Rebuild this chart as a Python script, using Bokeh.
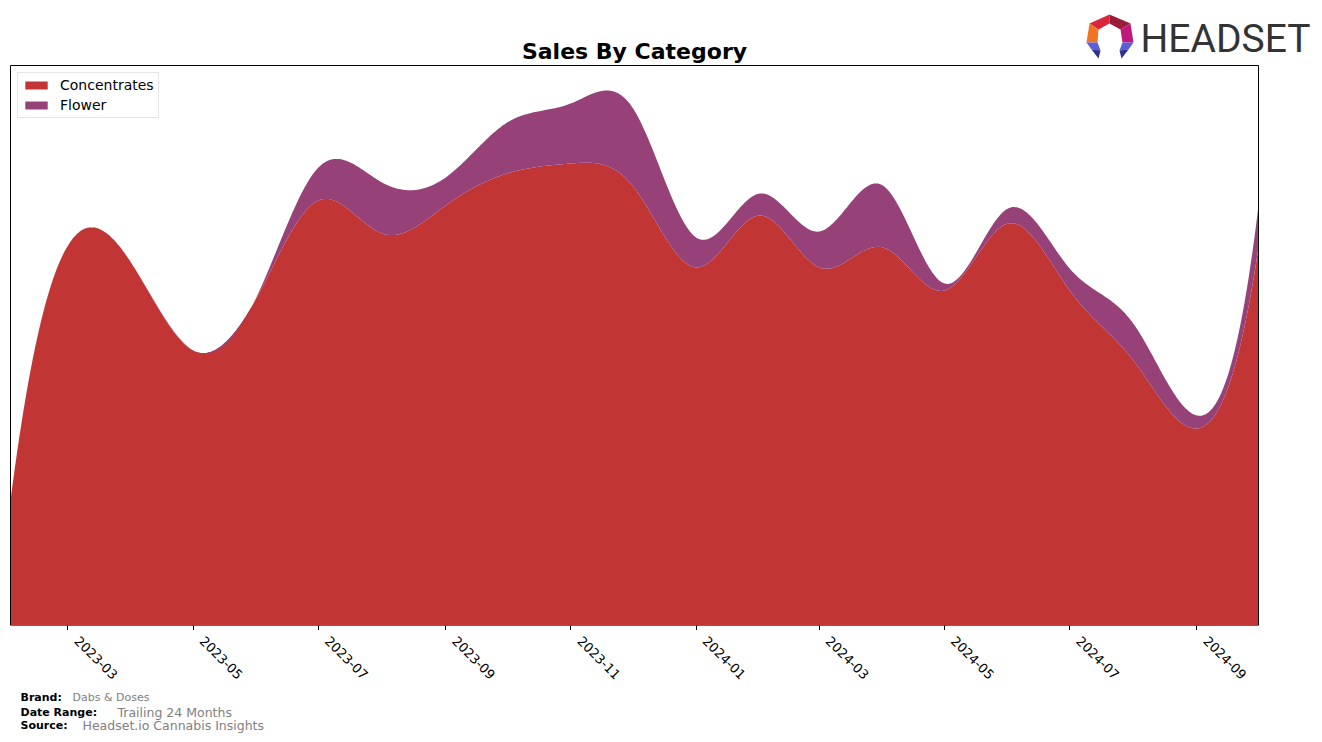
import numpy as np
from bokeh.plotting import figure
from bokeh.layouts import column
from bokeh.models import (Range1d, FixedTicker, CustomJSTickFormatter, Legend,
                          LegendItem, Label, ColumnDataSource, BoxAnnotation)
from bokeh.core.properties import value
from bokeh.embed import file_html
from bokeh.resources import INLINE

# ---------------- data ----------------
dates = ["2023-02-01", "2023-03-01", "2023-04-01", "2023-05-01", "2023-06-01",
         "2023-07-01", "2023-08-01", "2023-09-01", "2023-10-01", "2023-11-01",
         "2023-12-01", "2024-01-01", "2024-02-01", "2024-03-01", "2024-04-01",
         "2024-05-01", "2024-06-01", "2024-07-01", "2024-08-01", "2024-09-01",
         "2024-10-01"]
concentrates = [125, 380, 362, 275, 328, 425, 392, 420, 452, 462, 440, 358,
                410, 358, 378, 335, 402, 335, 265, 197, 378]
flower = [0, 0, 0, 0, 1, 33, 51, 28, 51, 60, 78, 30, 22, 36, 62, 7, 15, 22,
          37, 13, 42]
tick_dates = ["2023-03-01", "2023-05-01", "2023-07-01", "2023-09-01",
              "2023-11-01", "2024-01-01", "2024-03-01", "2024-05-01",
              "2024-07-01", "2024-09-01"]
tick_labels = ["2023-03", "2023-05", "2023-07", "2023-09", "2023-11",
               "2024-01", "2024-03", "2024-05", "2024-07", "2024-09"]
categories = ["Concentrates", "Flower"]
colors = ["#c13534", "#964279"]

# ---------------- canvas geometry (px) ----------------
W, H = 1322, 742
FL, FR = 10, 1258          # chart box left / right
BOX_TOP, BOX_BOT = 65, 625  # chart box top / bottom
HEAD_H = 64                 # header strip
MAIN_TOP = HEAD_H
FRAME_H = BOX_BOT - MAIN_TOP   # main frame: 64 .. 625
MAIN_BOTTOM = 5             # tick marks
FOOT_TOP = BOX_BOT + MAIN_BOTTOM
FOOT_H = H - FOOT_TOP
YMAX = BOX_BOT - BOX_TOP    # value scale: 1 unit per px inside the box


def spline(x, y, xs):
    """not-a-knot cubic spline through the monthly points (for smooth drawing)"""
    x = np.asarray(x, float)
    y = np.asarray(y, float)
    n = len(x)
    h = np.diff(x)
    A = np.zeros((n, n))
    b = np.zeros(n)
    A[0, 0], A[0, 1], A[0, 2] = h[1], -(h[0] + h[1]), h[0]
    for i in range(1, n - 1):
        A[i, i - 1] = h[i - 1]
        A[i, i] = 2 * (h[i - 1] + h[i])
        A[i, i + 1] = h[i]
        b[i] = 6 * ((y[i + 1] - y[i]) / h[i] - (y[i] - y[i - 1]) / h[i - 1])
    A[n - 1, n - 3], A[n - 1, n - 2], A[n - 1, n - 1] = h[n - 2], -(h[n - 3] + h[n - 2]), h[n - 3]
    M = np.linalg.solve(A, b)
    idx = np.clip(np.searchsorted(x, xs, side="right") - 1, 0, n - 2)
    x0, x1 = x[idx], x[idx + 1]
    hh = x1 - x0
    return (M[idx] * (x1 - xs) ** 3 / (6 * hh) + M[idx + 1] * (xs - x0) ** 3 / (6 * hh)
            + (y[idx] / hh - M[idx] * hh / 6) * (x1 - xs)
            + (y[idx + 1] / hh - M[idx + 1] * hh / 6) * (xs - x0))


d = np.array(dates, dtype="datetime64[D]")
days = (d - d[0]).astype(float)
xs = np.linspace(days[0], days[-1], 900)
c_s = spline(days, concentrates, xs)
f_s = spline(days, flower, xs)
x_dt = d[0] + (xs * 86400000).astype("timedelta64[ms]")
src = ColumnDataSource(dict(x=x_dt, zero=np.zeros_like(xs), c=c_s, t=c_s + f_s))

t0 = d[0].astype("datetime64[ms]").astype(float)
t1 = d[-1].astype("datetime64[ms]").astype(float)
scale = (FR - FL) / (t1 - t0)          # px per ms
xr = Range1d(t0 - FL / scale, t1 + (W - FR) / scale)
tick_ms = [np.datetime64(t, "ms").astype(float) for t in tick_dates]


def strip(height, x_range):
    f = figure(width=W, height=height, x_range=x_range, y_range=Range1d(0, height),
               x_axis_type=None, y_axis_type=None, output_backend="svg",
               toolbar_location=None, min_border=0)
    f.outline_line_color = None
    f.grid.visible = False
    f.background_fill_color = "white"
    f.border_fill_color = "white"
    return f


def label(fig, fh, ftop, X, Y, text, size, bold=False, color="black", align="left",
          font="DejaVu Sans"):
    fig.add_layout(Label(x=X, y=fh - (Y - ftop), x_units="screen", y_units="data",
                         text=text, text_font=font, text_font_size=size,
                         text_font_style="bold" if bold else "normal",
                         text_color=color, text_align=align, text_baseline="middle"))


# ---------------- header ----------------
head = strip(HEAD_H, Range1d(0, W))
label(head, HEAD_H, 0, 634, 51, "Sales By Category", "22px", bold=True, align="center")
label(head, HEAD_H, 0, 1140, 38, "HEADSET", "39px", color="#333333", font="Roboto")
logo = [
    ([(1109, 14), (1089, 23), (1098, 29), (1109, 23)], "#d8263a"),
    ([(1109, 14), (1130, 23), (1120, 29), (1109, 23)], "#9a1b3a"),
    ([(1089, 23), (1086, 42), (1097, 42), (1098, 29)], "#f27321"),
    ([(1130, 23), (1133, 42), (1122, 42), (1120, 29)], "#c0187c"),
    ([(1086, 42), (1097, 42), (1100, 50), (1091, 49)], "#5a5ed8"),
    ([(1091, 49), (1100, 50), (1098, 58)], "#2e2f8e"),
    ([(1133, 42), (1122, 42), (1119, 50), (1128, 49)], "#5a5ed8"),
    ([(1128, 49), (1119, 50), (1121, 58)], "#2e2f8e"),
]
head.patches(xs=[[a for a, _ in pts] for pts, _ in logo],
             ys=[[HEAD_H - b for _, b in pts] for pts, _ in logo],
             fill_color=[c for _, c in logo], line_color=None)

# ---------------- main chart ----------------
p = figure(width=W, height=FRAME_H + MAIN_BOTTOM, x_axis_type="datetime",
           y_axis_type=None, output_backend="svg", toolbar_location=None,
           x_range=xr, y_range=Range1d(-0.0, FRAME_H),
           min_border_left=0, min_border_right=0,
           min_border_top=0, min_border_bottom=MAIN_BOTTOM)
p.background_fill_color = "white"
p.border_fill_color = "white"
p.outline_line_color = None
p.grid.visible = False

r1 = p.varea(x="x", y1="zero", y2="c", source=src, fill_color=colors[0])
r2 = p.varea(x="x", y1="c", y2="t", source=src, fill_color=colors[1])

# chart box (matplotlib-style spines)
p.add_layout(BoxAnnotation(left=t0, right=t1, bottom=0, top=YMAX,
                           fill_alpha=0, line_color="black", line_width=1,
                           line_alpha=1))

ax = p.xaxis[0]
ax.ticker = FixedTicker(ticks=tick_ms)
ax.formatter = CustomJSTickFormatter(code="return ''")
ax.major_label_text_font_size = "0px"
ax.major_label_standoff = 0
ax.major_tick_out = 5
ax.major_tick_in = 0
ax.minor_tick_out = 0
ax.minor_tick_in = 0
ax.axis_line_color = None
ax.major_tick_line_color = "black"

legend = Legend(items=[LegendItem(label=categories[0], renderers=[r1]),
                       LegendItem(label=categories[1], renderers=[r2])],
                location=(17, BOX_BOT - 118), padding=4, spacing=4, margin=0,
                glyph_width=28, glyph_height=10, label_standoff=10,
                label_text_font="DejaVu Sans", label_text_font_size="14px",
                label_text_color="black",
                border_line_color="#cccccc", border_line_width=1,
                background_fill_alpha=0.8)
p.add_layout(legend)

# ---------------- footer: tick labels + notes ----------------
foot = strip(FOOT_H, xr)
tsrc = ColumnDataSource(dict(x=tick_ms, y=[FOOT_H - (635 - FOOT_TOP)] * len(tick_ms),
                             text=tick_labels))
foot.text(x="x", y="y", text="text", source=tsrc, angle=-np.pi / 4,
          x_offset=12, text_align="left", text_baseline="top",
          text_font=value("DejaVu Sans"), text_font_size="13px", text_color="black")

label(foot, FOOT_H, FOOT_TOP, 20, 697, "Brand:", "11px", bold=True)
label(foot, FOOT_H, FOOT_TOP, 72, 697, "Dabs & Doses", "11px", color="#808080")
label(foot, FOOT_H, FOOT_TOP, 20, 712, "Date Range:", "11px", bold=True)
label(foot, FOOT_H, FOOT_TOP, 117, 712, "Trailing 24 Months", "12.5px", color="#808080")
label(foot, FOOT_H, FOOT_TOP, 20, 725, "Source:", "11px", bold=True)
label(foot, FOOT_H, FOOT_TOP, 82, 725, "Headset.io Cannabis Insights", "12.5px", color="#808080")

page = column(head, p, foot, spacing=0)
open("out.html", "w").write(file_html(page, INLINE))
